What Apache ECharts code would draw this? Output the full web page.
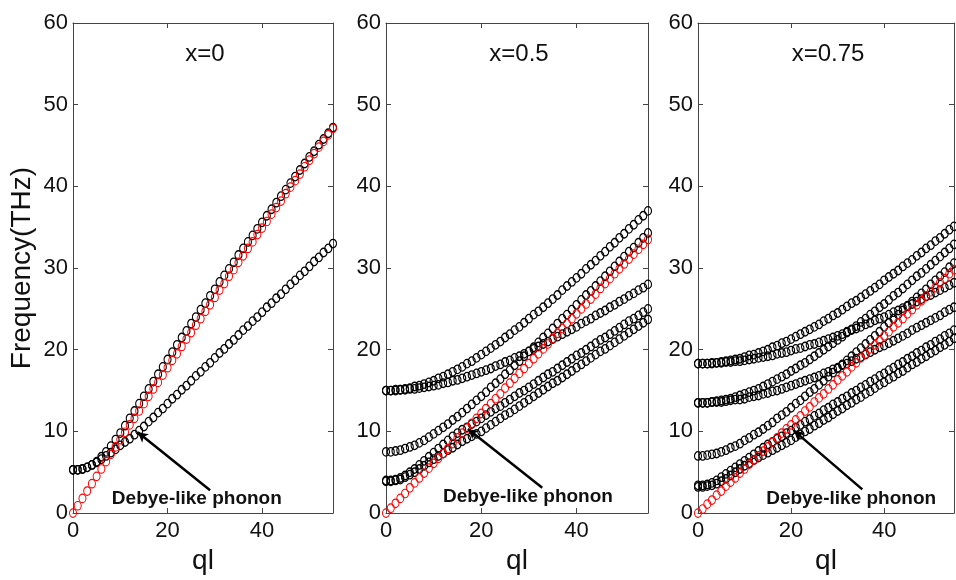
<!DOCTYPE html>
<html><head><meta charset="utf-8">
<script src="https://cdn.jsdelivr.net/npm/echarts@6/dist/echarts.min.js"></script>
<style>html,body{margin:0;padding:0;background:#fff}#c{width:956px;height:580px}</style>
</head><body><div id="c"></div>
<script>
// ---- data ----
const ql = [0,1,2,3,4,5,6,7,8,9,10,11,12,13,14,15,16,17,18,19,20,21,22,23,24,25,26,27,28,29,30,31,32,33,34,35,36,37,38,39,40,41,42,43,44,45,46,47,48,49,50,51,52,53,54,55];
const panelTitles = ['x=0', 'x=0.5', 'x=0.75'];
const xTicks = [0, 20, 40];
const yTicks = [0, 10, 20, 30, 40, 50, 60];

// panel x=0
const p1Red   = [0.0,0.9,1.8,2.7,3.6,4.5,5.4,6.3,7.2,8.1,9.0,9.9,10.8,11.6,12.5,13.4,14.3,15.2,16.0,16.9,17.8,18.7,19.5,20.4,21.3,22.1,23.0,23.8,24.7,25.5,26.4,27.3,28.1,29.0,29.8,30.7,31.5,32.4,33.2,34.1,34.9,35.7,36.6,37.4,38.2,39.1,39.9,40.7,41.5,42.4,43.2,44.0,44.8,45.5,46.3,47.1];
const p1Upper = [5.3,5.3,5.4,5.6,5.9,6.3,6.9,7.5,8.2,9.0,9.8,10.7,11.6,12.5,13.4,14.3,15.2,16.1,17.0,17.9,18.8,19.7,20.6,21.5,22.3,23.2,24.0,24.9,25.7,26.6,27.4,28.3,29.1,29.9,30.7,31.6,32.4,33.2,34.0,34.8,35.6,36.4,37.2,38.0,38.8,39.6,40.4,41.2,42.0,42.8,43.6,44.3,45.1,45.8,46.5,47.2];
const p1Lower = [5.3,5.3,5.4,5.6,5.9,6.2,6.6,7.0,7.4,7.8,8.3,8.7,9.1,9.6,10.1,10.6,11.2,11.7,12.3,12.8,13.4,14.0,14.5,15.1,15.6,16.2,16.8,17.3,17.9,18.4,19.0,19.6,20.1,20.7,21.2,21.8,22.4,22.9,23.5,24.0,24.6,25.2,25.7,26.3,26.8,27.4,28.0,28.5,29.1,29.6,30.2,30.8,31.3,31.9,32.4,33.0];

// panel x=0.5
const p2Red = [0,0.6,1.2,1.8,2.4,3.1,3.7,4.3,4.9,5.5,6.1,6.7,7.3,7.9,8.5,9.2,9.8,10.4,11.0,11.6,12.2,12.8,13.4,14.0,14.6,15.3,15.9,16.5,17.1,17.7,18.3,18.9,19.5,20.1,20.7,21.4,22.0,22.6,23.2,23.8,24.4,25.0,25.6,26.2,26.8,27.5,28.1,28.7,29.3,29.9,30.5,31.1,31.7,32.3,32.9,33.5];
const p2A = [15.0,15.0,15.1,15.1,15.2,15.3,15.5,15.6,15.8,16.0,16.2,16.5,16.7,17.0,17.3,17.6,17.9,18.3,18.6,19.0,19.4,19.8,20.2,20.6,21.0,21.5,21.9,22.4,22.8,23.3,23.8,24.3,24.7,25.2,25.7,26.2,26.7,27.3,27.8,28.3,28.8,29.3,29.9,30.4,30.9,31.5,32.0,32.6,33.1,33.7,34.2,34.8,35.3,35.9,36.4,37.0];
const p2B = [15.0,15.0,15.0,15.1,15.1,15.2,15.2,15.3,15.4,15.5,15.6,15.7,15.9,16.0,16.2,16.3,16.5,16.7,16.9,17.1,17.3,17.5,17.7,18.0,18.2,18.5,18.7,19.0,19.2,19.5,19.8,20.1,20.4,20.7,21.0,21.3,21.6,21.9,22.2,22.5,22.8,23.2,23.5,23.8,24.2,24.5,24.8,25.2,25.5,25.9,26.2,26.6,26.9,27.3,27.6,28.0];
const p2C = [7.5,7.5,7.6,7.7,7.9,8.1,8.3,8.6,8.9,9.3,9.7,10.1,10.5,10.9,11.4,11.8,12.3,12.8,13.3,13.8,14.3,14.8,15.4,15.9,16.4,17.0,17.5,18.1,18.6,19.2,19.8,20.3,20.9,21.5,22.0,22.6,23.2,23.8,24.3,24.9,25.5,26.1,26.7,27.2,27.8,28.4,29.0,29.6,30.2,30.8,31.4,32.0,32.5,33.1,33.7,34.3];
const p2D = [4.0,4.0,4.1,4.3,4.6,5.0,5.4,5.9,6.4,6.9,7.4,7.9,8.4,8.9,9.4,9.8,10.2,10.5,10.9,11.2,11.6,12.0,12.4,12.8,13.1,13.5,13.9,14.3,14.7,15.0,15.4,15.8,16.2,16.6,17.0,17.3,17.7,18.1,18.5,18.9,19.3,19.6,20.0,20.4,20.8,21.2,21.5,21.9,22.3,22.7,23.1,23.5,23.8,24.2,24.6,25.0];
const p2E = [3.9,3.9,4.0,4.1,4.4,4.7,5.0,5.4,5.8,6.2,6.6,7.0,7.3,7.7,8.0,8.4,8.8,9.1,9.4,9.7,10.0,10.4,10.8,11.2,11.6,12.0,12.3,12.7,13.1,13.5,13.9,14.3,14.7,15.1,15.5,15.9,16.2,16.6,17.0,17.4,17.8,18.2,18.6,19.0,19.4,19.8,20.1,20.5,20.9,21.3,21.7,22.1,22.5,22.9,23.3,23.7];

// panel x=0.75
const p3Red = [0,0.5,1.1,1.6,2.2,2.7,3.3,3.8,4.3,4.9,5.4,6.0,6.5,7.0,7.6,8.1,8.7,9.2,9.8,10.3,10.8,11.4,11.9,12.5,13.0,13.6,14.1,14.6,15.2,15.7,16.3,16.8,17.3,17.9,18.4,19.0,19.5,20.1,20.6,21.1,21.7,22.2,22.8,23.3,23.8,24.4,24.9,25.5,26.0,26.6,27.1,27.6,28.2,28.7,29.3,29.8];
const p3G1 = [18.3,18.3,18.3,18.4,18.4,18.5,18.6,18.7,18.8,18.9,19.1,19.3,19.4,19.6,19.8,20.0,20.3,20.5,20.8,21.0,21.3,21.6,21.9,22.2,22.5,22.8,23.1,23.5,23.8,24.2,24.5,24.9,25.3,25.7,26.0,26.4,26.8,27.2,27.6,28.0,28.5,28.9,29.3,29.7,30.2,30.6,31.0,31.5,31.9,32.4,32.8,33.3,33.7,34.2,34.7,35.1];
const p3G2 = [18.3,18.3,18.3,18.3,18.4,18.4,18.5,18.5,18.6,18.6,18.7,18.8,18.9,19.0,19.1,19.2,19.3,19.5,19.6,19.7,19.9,20.1,20.2,20.4,20.6,20.7,20.9,21.1,21.3,21.5,21.7,21.9,22.2,22.4,22.6,22.8,23.1,23.3,23.6,23.8,24.0,24.3,24.6,24.8,25.1,25.4,25.6,25.9,26.2,26.5,26.7,27.0,27.3,27.6,27.9,28.2];
const p3H1 = [13.5,13.5,13.5,13.6,13.7,13.8,13.9,14.0,14.2,14.4,14.6,14.8,15.0,15.2,15.5,15.8,16.1,16.4,16.7,17.0,17.4,17.7,18.1,18.4,18.8,19.2,19.6,20.0,20.4,20.8,21.2,21.6,22.1,22.5,22.9,23.4,23.8,24.3,24.7,25.2,25.6,26.1,26.6,27.0,27.5,28.0,28.5,29.0,29.4,29.9,30.4,30.9,31.4,31.9,32.4,32.9];
const p3H2 = [13.5,13.5,13.5,13.6,13.6,13.6,13.7,13.8,13.9,13.9,14.0,14.2,14.3,14.4,14.6,14.7,14.9,15.0,15.2,15.4,15.6,15.8,16.0,16.2,16.4,16.6,16.8,17.1,17.3,17.6,17.8,18.1,18.3,18.6,18.9,19.1,19.4,19.7,20.0,20.3,20.5,20.8,21.1,21.4,21.7,22.0,22.4,22.7,23.0,23.3,23.6,23.9,24.2,24.6,24.9,25.2];
const p3K = [7.0,7.0,7.1,7.2,7.3,7.5,7.7,8.0,8.2,8.5,8.9,9.2,9.6,9.9,10.3,10.7,11.1,11.6,12.0,12.4,12.9,13.4,13.8,14.3,14.8,15.2,15.7,16.2,16.7,17.2,17.7,18.2,18.7,19.2,19.7,20.2,20.7,21.2,21.7,22.2,22.8,23.3,23.8,24.3,24.8,25.3,25.9,26.4,26.9,27.4,28.0,28.5,29.0,29.5,30.1,30.6];
const p3L1 = [3.4,3.4,3.5,3.7,4.0,4.4,4.8,5.2,5.6,6.0,6.4,6.8,7.2,7.6,8.0,8.4,8.7,9.1,9.4,9.8,10.1,10.5,10.8,11.2,11.5,11.9,12.2,12.6,12.9,13.3,13.6,14.0,14.3,14.7,15.0,15.4,15.7,16.1,16.4,16.8,17.1,17.5,17.8,18.2,18.5,18.9,19.2,19.6,19.9,20.3,20.6,21.0,21.3,21.7,22.0,22.4];
const p3L2 = [3.2,3.2,3.3,3.4,3.6,3.9,4.2,4.6,5.0,5.4,5.8,6.1,6.5,6.8,7.1,7.4,7.7,8.0,8.3,8.6,8.9,9.3,9.6,10.0,10.3,10.7,11.0,11.4,11.7,12.1,12.5,12.8,13.2,13.5,13.9,14.2,14.6,14.9,15.3,15.7,16.0,16.4,16.7,17.1,17.4,17.8,18.2,18.5,18.9,19.2,19.6,19.9,20.3,20.6,21.0,21.4];

// annotation (data coordinates of each panel)
const noteText = 'Debye-like phonon';
const arrowTip  = [[13.7, 9.9], [17.2, 10.3], [20.6, 10.1]];
const arrowTail = [[29.0, 2.8], [32.8, 3.1], [35.3, 2.9]];
const noteAt    = [[26.2, 1.8], [29.8, 2.0], [32.9, 1.8]];

// ---- chart ----
const panels = [
  {black: [p1Upper, p1Lower], red: p1Red},
  {black: [p2A, p2B, p2C, p2D, p2E], red: p2Red},
  {black: [p3G1, p3G2, p3H1, p3H2, p3K, p3L1, p3L2], red: p3Red}
];
const gridBoxes = [
  {left: 73, top: 23, width: 260, height: 498},
  {left: 386, top: 23, width: 262, height: 500},
  {left: 698, top: 23, width: 256, height: 498}
];
const FONT = '"Liberation Sans", Arial, sans-serif';
const axisColor = '#444';

const chart = echarts.init(document.getElementById('c'), null, {renderer: 'canvas'});
const grid = [], xAxis = [], yAxis = [], series = [], title = [];

const toPts = arr => ql.map((x, i) => [x, arr[i]]);
const baseAxis = {
  axisLine: {show: true, onZero: false, lineStyle: {color: axisColor, width: 1}},
  axisTick: {show: true, inside: true, length: 5, lineStyle: {color: axisColor, width: 1}},
  splitLine: {show: false}
};
const markSize = [7, 8.5];

panels.forEach((p, i) => {
  grid.push(Object.assign({show: false, containLabel: false}, gridBoxes[i]));
  xAxis.push(Object.assign({}, baseAxis, {
    type: 'value', gridIndex: i, position: 'bottom', min: xTicks[0], max: 55, interval: xTicks[1] - xTicks[0],
    axisLabel: {show: true, fontSize: 22, color: '#111', fontFamily: FONT, margin: 7, showMaxLabel: false},
    name: 'ql', nameLocation: 'middle', nameGap: 33,
    nameTextStyle: {fontSize: 28, color: '#111', fontFamily: FONT}
  }));
  xAxis.push(Object.assign({}, baseAxis, {
    type: 'value', gridIndex: i, position: 'top', min: xTicks[0], max: 55, interval: xTicks[1] - xTicks[0],
    axisLabel: {show: false}
  }));
  yAxis.push(Object.assign({}, baseAxis, {
    type: 'value', gridIndex: i, position: 'left', min: yTicks[0], max: yTicks[yTicks.length - 1], interval: yTicks[1] - yTicks[0],
    axisLabel: {show: true, fontSize: 22, color: '#111', fontFamily: FONT, margin: 5},
    name: i === 0 ? 'Frequency(THz)' : '', nameLocation: 'middle', nameGap: 37, nameRotate: 90,
    nameTextStyle: {fontSize: 28, color: '#111', fontFamily: FONT}
  }));
  yAxis.push(Object.assign({}, baseAxis, {
    type: 'value', gridIndex: i, position: 'right', min: yTicks[0], max: yTicks[yTicks.length - 1], interval: yTicks[1] - yTicks[0],
    axisLabel: {show: false}
  }));
  title.push({
    text: panelTitles[i],
    left: gridBoxes[i].left + gridBoxes[i].width / 2 - 3, top: 37, textAlign: 'center',
    textStyle: {fontSize: 24, fontWeight: 'normal', color: '#111', fontFamily: FONT}
  });
  p.black.forEach(arr => {
    series.push({
      type: 'scatter', xAxisIndex: 2 * i, yAxisIndex: 2 * i, data: toPts(arr),
      symbol: 'circle', symbolSize: markSize,
      itemStyle: {color: 'rgba(0,0,0,0)', borderColor: '#000', borderWidth: 1.2, opacity: 1},
      silent: true, z: 2
    });
  });
  series.push({
    type: 'scatter', xAxisIndex: 2 * i, yAxisIndex: 2 * i, data: toPts(p.red),
    symbol: 'circle', symbolSize: markSize,
    itemStyle: {color: 'rgba(0,0,0,0)', borderColor: '#ff0000', borderWidth: 1.1, opacity: 1},
    silent: true, z: 3,
    markLine: {
      silent: true, symbol: ['none', 'arrow'], symbolSize: [8, 10], animation: false,
      lineStyle: {color: '#000', width: 2.5, type: 'solid'},
      label: {show: false},
      data: [[{coord: arrowTail[i]}, {coord: arrowTip[i]}]]
    }
  });
});

chart.setOption({
  animation: false,
  backgroundColor: '#fff',
  title, grid, xAxis, yAxis, series
});

// annotation text placed through the axes' scales
const graphics = noteAt.map((c, i) => {
  const pt = chart.convertToPixel({xAxisIndex: 2 * i, yAxisIndex: 2 * i}, c);
  return {
    type: 'text', x: pt[0], y: pt[1], z: 10,
    style: {text: noteText, fill: '#111', font: 'bold 19px ' + FONT, textAlign: 'center', textVerticalAlign: 'middle'}
  };
});
chart.setOption({graphic: graphics});
</script></body></html>
